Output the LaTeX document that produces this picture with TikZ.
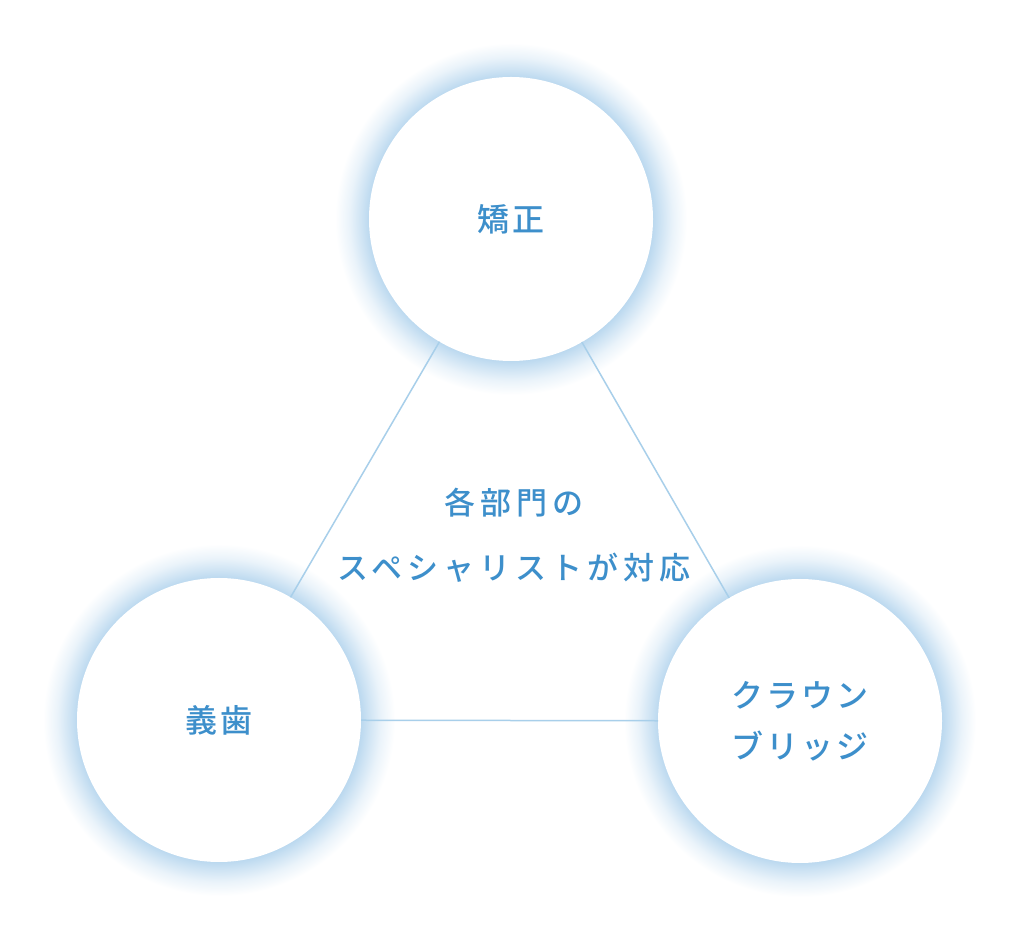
\documentclass[tikz,border=0pt]{standalone}
\usepackage{fontspec}
\setmainfont{Noto Sans CJK JP}[BoldFont={Noto Sans CJK JP Medium}]
\usetikzlibrary{positioning}

\definecolor{glowblue}{RGB}{186,216,239}
\definecolor{labelblue}{HTML}{3D8FCB}
\definecolor{edgeblue}{HTML}{A8CFEA}
\pgfdeclareradialshading{glow}{\pgfpoint{0bp}{0bp}}{color(0bp)=(glowblue); color(20.1bp)=(glowblue); color(21.3bp)=(glowblue!70!white); color(23bp)=(glowblue!30!white); color(25bp)=(white); color(50bp)=(white)}

\begin{document}
\begin{tikzpicture}[
    x=1pt, y=1pt,
    bubble/.style={circle, fill=white, minimum size=284pt, inner sep=0pt, outer sep=0pt,
        text=labelblue, font=\bfseries\fontsize{32}{51}\selectfont\addfontfeature{LetterSpace=10}, align=center},
    caption/.style={text=labelblue, font=\bfseries\fontsize{31}{65}\selectfont\addfontfeature{LetterSpace=16}, align=center},
    link/.style={draw=edgeblue, line width=1.5pt}
]
    \fill[white] (0,0) rectangle (1020,940);
    \useasboundingbox (0,0) rectangle (1020,940);

    % Centres
    \coordinate (ctop) at (511,721);
    \coordinate (cleft) at (219,220);
    \coordinate (cright) at (800,219);

    % Glow
    \foreach \c in {ctop,cleft,cright}
        \shade[shading=glow] (\c) circle (176);

    % Nodes
    \node[bubble] (kyosei) at (ctop) {矯正};
    \node[bubble] (gishi) at (cleft) {義歯};
    \node[bubble] (crown) at (cright) {クラウン\\ブリッジ};
    \node[caption] (center) at (514,405) {各部門の\\スペシャリストが対応};

    % Connections
    \path[link] (kyosei) -- (gishi);
    \path[link] (kyosei) -- (crown);
    \path[link] (gishi) -- (crown);
\end{tikzpicture}
\end{document}
